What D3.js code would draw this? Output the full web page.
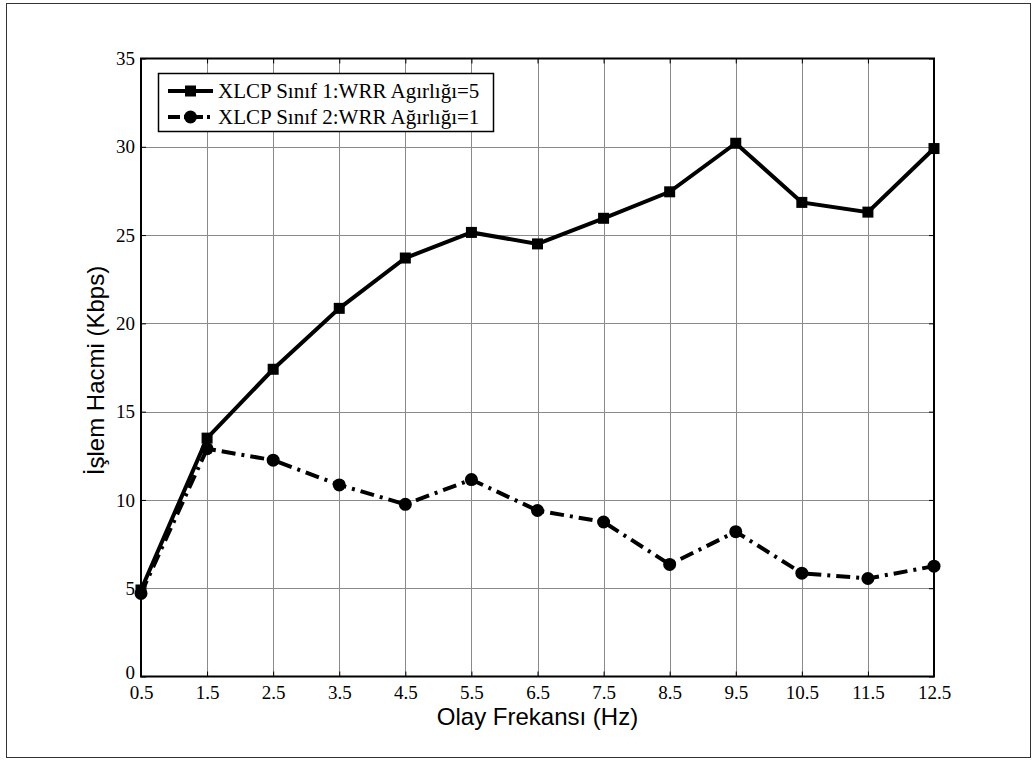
<!DOCTYPE html>
<html>
<head>
<meta charset="utf-8">
<script src="https://cdn.jsdelivr.net/npm/d3@7"></script>
<style>
  html, body { margin: 0; padding: 0; background: #fff; }
  svg { display: block; }
</style>
</head>
<body>
<svg id="chart" width="1033" height="760"></svg>
<script>
// Event frequency (Hz) on the x axis
const frequencies = [0.5, 1.5, 2.5, 3.5, 4.5, 5.5, 6.5, 7.5, 8.5, 9.5, 10.5, 11.5, 12.5];
// Throughput (Kbps) per class
const class1Throughput = [4.9, 13.5, 17.4, 20.85, 23.7, 25.15, 24.5, 25.95, 27.45, 30.2, 26.85, 26.3, 29.9];
const class2Throughput = [4.7, 12.9, 12.25, 10.85, 9.75, 11.15, 9.4, 8.75, 6.35, 8.2, 5.85, 5.55, 6.25];
const seriesNames = ["XLCP Sınıf 1:WRR Agırlığı=5", "XLCP Sınıf 2:WRR Ağırlığı=1"];
const xTicks = frequencies;
const yTicks = [0, 5, 10, 15, 20, 25, 30, 35];

const svg = d3.select("#chart");
const margin = { left: 141, right: 99, top: 58.5, bottom: 83.5 };
const W = 1033, H = 760;
const x0 = margin.left, x1 = W - margin.right, y0 = H - margin.bottom, y1 = margin.top;

// outer frame
svg.append("rect").attr("x", 6.5).attr("y", 3.5).attr("width", 1024).attr("height", 754)
  .attr("fill", "none").attr("stroke", "#333").attr("stroke-width", 1);

const x = d3.scaleLinear().domain([0.5, 12.5]).range([x0, x1]);
const y = d3.scaleLinear().domain([0, 35]).range([y0, y1]);

// grid
const grid = svg.append("g").attr("stroke", "#8a8a8a").attr("stroke-width", 1);
grid.selectAll(".gx").data(xTicks.slice(1, -1)).join("line")
  .attr("x1", d => Math.round(x(d)) + 0.5).attr("x2", d => Math.round(x(d)) + 0.5)
  .attr("y1", y1).attr("y2", y0);
grid.selectAll(".gy").data(yTicks.slice(1, -1)).join("line")
  .attr("y1", d => Math.round(y(d)) + 0.5).attr("y2", d => Math.round(y(d)) + 0.5)
  .attr("x1", x0).attr("x2", x1);

// axes with inward ticks on all four sides
const tickFont = "'Liberation Serif', 'Times New Roman', serif";
const axB = d3.axisBottom(x).tickValues(xTicks).tickSize(-5).tickPadding(9).tickFormat(d3.format(".1f"));
const axT = d3.axisTop(x).tickValues(xTicks).tickSize(-5).tickFormat("");
const axL = d3.axisLeft(y).tickValues(yTicks).tickSize(-5).tickPadding(6).tickFormat(d3.format("d"));
const axR = d3.axisRight(y).tickValues(yTicks).tickSize(-5).tickFormat("");

function styleAxis(g) {
  g.select(".domain").remove();
  g.selectAll(".tick line").attr("stroke", "#000").attr("stroke-width", 1);
  g.selectAll(".tick text").attr("fill", "#000").style("font-family", tickFont).style("font-size", "19px");
}
svg.append("g").attr("transform", `translate(0,${y0})`).call(axB).call(styleAxis);
svg.append("g").attr("transform", `translate(0,${y1})`).call(axT).call(styleAxis);
const leftAxis = svg.append("g").attr("transform", `translate(${x0},0)`).call(axL).call(styleAxis);
// lift the "0" label a touch so it clears the first x label
leftAxis.selectAll(".tick text").filter(d => d === 0).attr("dy", "0.1em");
svg.append("g").attr("transform", `translate(${x1},0)`).call(axR).call(styleAxis);

// axes box
svg.append("rect").attr("x", x0).attr("y", y1).attr("width", x1 - x0).attr("height", y0 - y1)
  .attr("fill", "none").attr("stroke", "#000").attr("stroke-width", 2);

// series
const line = d3.line().x(d => x(d[0])).y(d => y(d[1]));
const s1 = frequencies.map((f, i) => [f, class1Throughput[i]]);
const s2 = frequencies.map((f, i) => [f, class2Throughput[i]]);
const dashDot = "14,6,3,6";

svg.append("path").datum(s1).attr("d", line).attr("fill", "none")
  .attr("stroke", "#000").attr("stroke-width", 4).attr("stroke-linejoin", "miter");
svg.append("path").datum(s2).attr("d", line).attr("fill", "none")
  .attr("stroke", "#000").attr("stroke-width", 4).attr("stroke-dasharray", dashDot);

const sq = 11;
svg.append("g").selectAll("rect").data(s1).join("rect")
  .attr("x", d => x(d[0]) - sq / 2).attr("y", d => y(d[1]) - sq / 2)
  .attr("width", sq).attr("height", sq).attr("fill", "#000");
svg.append("g").selectAll("circle").data(s2).join("circle")
  .attr("cx", d => x(d[0])).attr("cy", d => y(d[1])).attr("r", 6.5).attr("fill", "#000");

// axis titles
const sansFont = "'Liberation Sans', Arial, sans-serif";
svg.append("text").attr("x", (x0 + x1) / 2).attr("y", 725).attr("text-anchor", "middle")
  .style("font-family", sansFont).style("font-size", "24px").text("Olay Frekansı (Hz)");
svg.append("text").attr("transform", `translate(104,${(y0 + y1) / 2 + 3}) rotate(-90)`)
  .attr("text-anchor", "middle").style("font-family", sansFont).style("font-size", "24px")
  .text("İşlem Hacmi (Kbps)");

// legend
const lg = svg.append("g");
lg.append("rect").attr("x", 158.5).attr("y", 73.5).attr("width", 335).attr("height", 58)
  .attr("fill", "#fff").attr("stroke", "#000").attr("stroke-width", 1.5);
const rows = [{ yy: 91, dash: null, marker: "sq" }, { yy: 117, dash: dashDot, marker: "c" }];
rows.forEach((r, i) => {
  lg.append("line").attr("x1", 168).attr("x2", 213).attr("y1", r.yy).attr("y2", r.yy)
    .attr("stroke", "#000").attr("stroke-width", 4).attr("stroke-dasharray", r.dash ? "12,4,3,4" : null);
  if (r.marker === "sq") {
    lg.append("rect").attr("x", 190.5 - sq / 2).attr("y", r.yy - sq / 2).attr("width", sq).attr("height", sq).attr("fill", "#000");
  } else {
    lg.append("circle").attr("cx", 190.5).attr("cy", r.yy).attr("r", 6.5).attr("fill", "#000");
  }
  lg.append("text").attr("x", 218).attr("y", r.yy + 7).style("font-family", tickFont).style("font-size", "21px")
    .text(seriesNames[i]);
});
</script>
</body>
</html>
